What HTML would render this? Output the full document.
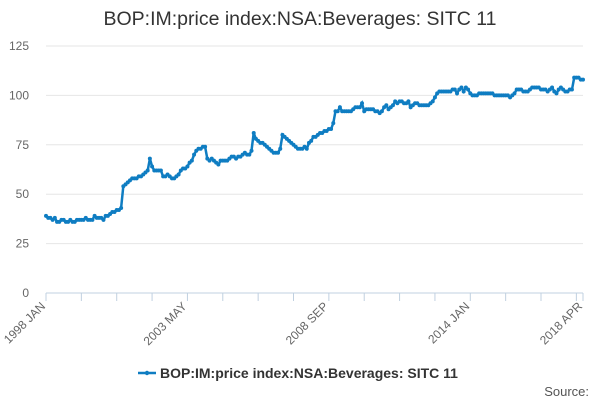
<!DOCTYPE html>
<html><head><meta charset="utf-8"><style>
body{margin:0;background:#fff;font-family:"Liberation Sans",sans-serif}
svg{display:block}
</style></head><body>
<svg id="chart" width="600" height="400">
<text x="300" y="25" text-anchor="middle" font-size="19.5" fill="#333">BOP:IM:price index:NSA:Beverages: SITC 11</text>
<g id="grid"></g><g id="axes"></g><g id="series"></g>
<g>
<line x1="138" y1="373" x2="156" y2="373" stroke="#0f7dc2" stroke-width="2.5"/>
<circle cx="147" cy="373" r="2.2" fill="#0f7dc2"/>
<text x="160" y="378" font-size="14" font-weight="bold" fill="#333">BOP:IM:price index:NSA:Beverages: SITC 11</text>
</g>
<text x="589" y="396" text-anchor="end" font-size="13" fill="#555">Source:</text>
</svg>
<script>
const values=[39,38,38,37,38,36,36,37,37,36,36,37,36,36,37,37,37,37,38,37,37,37,
39,38,38,38,37,39,39,40,41,41,42,42,43,
54,55,56,57,58,58,58,59,59,60,61,62,
68,
64,62,62,62,62,
59,59,60,59,58,58,59,60,62,63,63,64,66,
67,70,72,73,73,74,74,
68,67,68,67,66,65,67,
67,67,67,68,69,69,68,69,69,70,71,70,70,72,
81,
78,77,76,76,75,74,73,72,71,71,71,
73,80,
79,78,77,76,75,74,73,73,73,74,
73,76,77,79,79,80,81,81,82,82,83,83,86,
92,92,94,92,92,92,92,92,93,94,94,94,
96,
92,93,93,93,93,92,92,91,92,94,95,93,94,95,97,96,
97,97,96,96,97,94,95,96,96,95,95,95,95,95,96,97,99,101,
102,102,102,102,102,102,103,103,101,103,104,102,
104,103,101,100,100,100,101,101,101,101,101,101,101,100,100,100,100,100,100,100,99,100,
101,103,103,103,102,102,102,103,104,104,104,104,103,103,103,102,103,104,102,101,103,104,103,102,102,103,103,109,109,109,108,108];
const yTicks=[0,25,50,75,100,125];
const xLabels=["1998 JAN","2003 MAY","2008 SEP","2014 JAN","2018 APR"];
const xLabelIdx=[0,64,128,192,243];
const NS="http://www.w3.org/2000/svg";
const X0=46,X1=583,Y0=293,Y1=46;
const n=values.length;
const xs=i=>X0+(X1-X0)*i/(n-1);
const ys=v=>Y0-(Y0-Y1)*v/125;
function mk(tag,attrs,parent){const e=document.createElementNS(NS,tag);for(const k in attrs)e.setAttribute(k,attrs[k]);document.getElementById(parent).appendChild(e);return e;}
yTicks.forEach(t=>{
 const l=mk('line',{x1:X0,x2:X1,y1:ys(t),y2:ys(t),stroke:t===0?'#c0d0e0':'#e6e6e6','stroke-width':1},'grid');
 
 
 const tx=mk('text',{x:29,y:ys(t)+4,'text-anchor':'end','font-size':12,fill:'#666'},'axes');
 tx.textContent=t;
 
 
});
for(let i=0;i<n;i+=16){
 const tk=mk('line',{x1:xs(i),x2:xs(i),y1:Y0,y2:Y0+8,stroke:'#c0d0e0'},'axes');
 
 
}
mk('line',{x1:X1,x2:X1,y1:Y0,y2:Y0+8,stroke:'#c0d0e0'},'axes');
xLabels.forEach((s,k)=>{
 const x=xs(xLabelIdx[k]),y=Y0+14;
 const t=mk('text',{x:x,y:y,'text-anchor':'end','font-size':12,fill:'#666',transform:`rotate(-45 ${x} ${y})`},'axes');
 t.textContent=s;
 
 
});
const p=mk('path',{d:values.map((v,i)=>(i?'L':'M')+xs(i).toFixed(1)+' '+ys(v).toFixed(1)).join(''),fill:'none',stroke:'#0f7dc2','stroke-width':2.5},'series');


values.forEach((v,i)=>{
 const c=mk('circle',{cx:xs(i),cy:ys(v),r:2,fill:'#0f7dc2'},'series');
 
 
});
</script>
</body></html>
